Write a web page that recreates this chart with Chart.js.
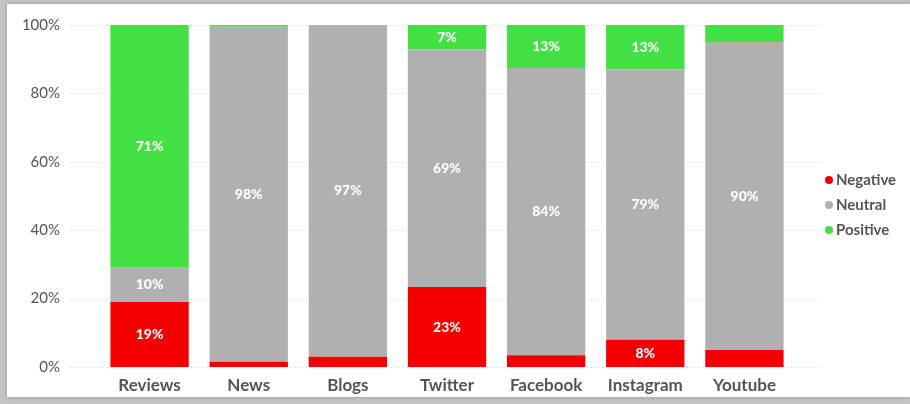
<!DOCTYPE html>
<html>
<head>
<meta charset="utf-8">
<script src="https://cdn.jsdelivr.net/npm/chart.js@4.4.1/dist/chart.umd.min.js"></script>
<style>
  html, body { margin: 0; padding: 0; }
  body { width: 910px; height: 404px; background: #c4c4c4; position: relative; overflow: hidden; }
  #wrap { position: absolute; left: 7px; top: 4px; width: 903px; height: 393px; background: #fff;
          box-shadow: 0 0 4px rgba(0,0,0,0.25); }
  canvas { display: block; }
</style>
</head>
<body>
<div id="wrap"><canvas id="c" width="903" height="393"></canvas></div>
<script>
// categories + series (percent share)
let cats = ['Reviews', 'News', 'Blogs', 'Twitter', 'Facebook', 'Instagram', 'Youtube'];
let negative = [19, 1.5, 3, 23.4, 3.4, 8, 5];
let neutral = [10, 98, 97, 69.4, 84, 79, 90];
let positive = [71, 0.5, 0, 7.2, 12.6, 13, 5];
let yTicks = [0, 20, 40, 60, 80, 100];

let txtCol = '#555555';
let fnt = 'Lato, "Open Sans", sans-serif';

// faint dotted gridlines that run past the bars, like the original
let gridPlug = {
    id: 'gridPlug',
    beforeDatasetsDraw(c) {
        let ctx = c.ctx, a = c.chartArea, y = c.scales.y;
        ctx.save();
        ctx.strokeStyle = '#e4e4e4';
        ctx.lineWidth = 1;
        ctx.setLineDash([2, 2]);
        yTicks.forEach(v => {
            let py = Math.round(y.getPixelForValue(v)) + 0.5;
            ctx.beginPath();
            ctx.moveTo(a.left - 30, py);
            ctx.lineTo(a.right + 29, py);
            ctx.stroke();
        });
        ctx.restore();
    }
};

// value labels inside the bars
let lblPlug = {
    id: 'lblPlug',
    afterDatasetsDraw(c) {
        let ctx = c.ctx;
        ctx.save();
        ctx.fillStyle = '#fff';
        ctx.font = '900 14px ' + fnt;
        ctx.textAlign = 'center';
        ctx.textBaseline = 'middle';
        c.data.datasets.forEach((ds, i) => {
            let meta = c.getDatasetMeta(i);
            meta.data.forEach((bar, j) => {
                let v = ds.data[j];
                if (v < 7) return;
                let mid = (bar.y + bar.base) / 2;
                ctx.fillText(Math.round(v) + '%', bar.x, mid);
            });
        });
        ctx.restore();
    }
};

// legend on the right
let legPlug = {
    id: 'legPlug',
    afterDraw(c) {
        let ctx = c.ctx;
        ctx.save();
        ctx.font = 'bold 15px ' + fnt;
        ctx.textBaseline = 'middle';
        c.data.datasets.forEach((ds, i) => {
            let y = 176 + i * 25;
            ctx.fillStyle = ds.backgroundColor;
            ctx.beginPath();
            ctx.arc(822, y, 4, 0, Math.PI * 2);
            ctx.fill();
            ctx.fillStyle = txtCol;
            ctx.fillText(ds.label, 829, y);
        });
        ctx.restore();
    }
};

let ch = new Chart(document.getElementById('c'), {
    type: 'bar',
    data: {
        labels: cats,
        datasets: [
            { label: 'Negative', data: negative, backgroundColor: '#f40000' },
            { label: 'Neutral', data: neutral, backgroundColor: '#b0b0b0' },
            { label: 'Positive', data: positive, backgroundColor: '#42e042' }
        ]
    },
    options: {
        responsive: false,
        animation: false,
        layout: { padding: { top: 21, right: 116, bottom: 0, left: 0 } },
        categoryPercentage: 0.79,
        barPercentage: 1,
        scales: {
            x: {
                stacked: true,
                grid: { display: false },
                border: { display: false },
                ticks: { color: txtCol, font: { family: fnt, size: 17, weight: 'bold' }, padding: 0 },
                afterFit(s) { s.height = 30; }
            },
            y: {
                stacked: true,
                min: 0, max: 100,
                grid: { display: false },
                border: { display: false },
                ticks: { stepSize: 20, color: txtCol, font: { family: fnt, size: 15 }, padding: 32,
                         callback: v => v + '%' },
                afterFit(s) { s.width = 93; s.paddingTop = 8; s.paddingBottom = 8; }
            }
        },
        plugins: { legend: { display: false }, tooltip: { enabled: false } }
    },
    plugins: [gridPlug, lblPlug, legPlug]
});
</script>
</body>
</html>
